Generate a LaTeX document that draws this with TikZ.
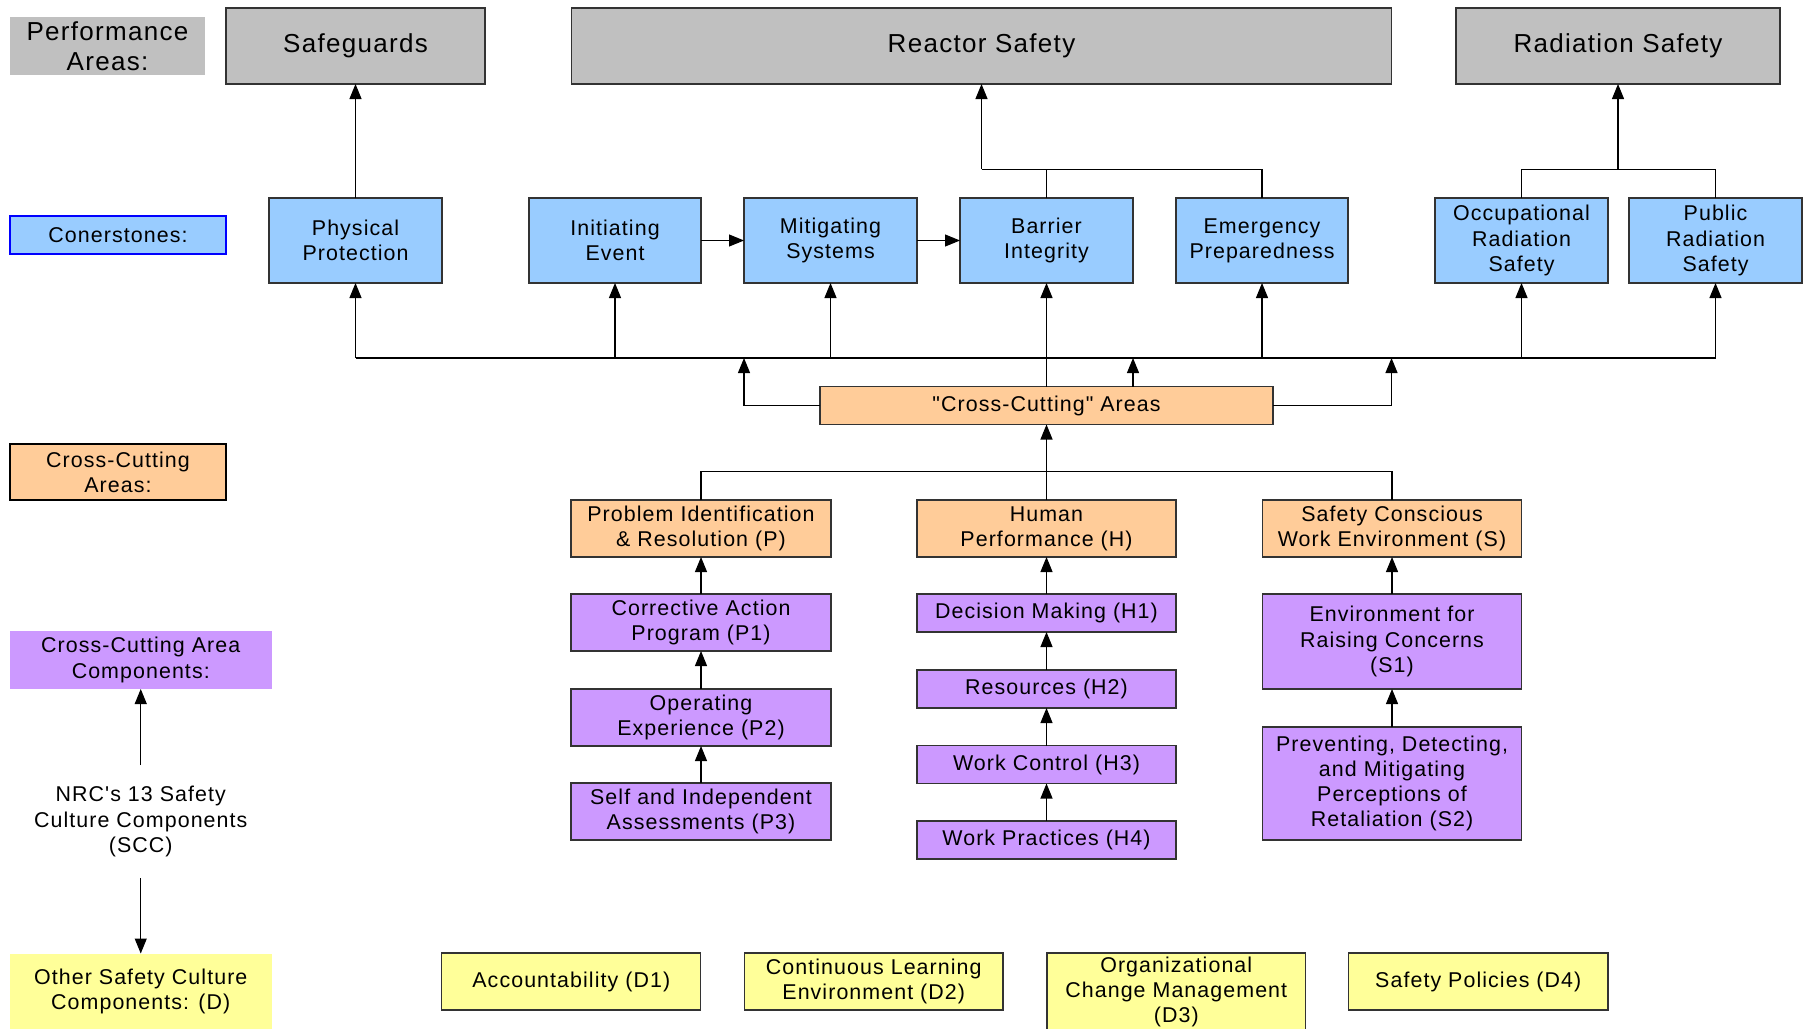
\documentclass[tikz,border=0pt]{standalone}
\usepackage{fontspec}
\newfontfamily\diagfont{Liberation Sans}[LetterSpace=5]
\usetikzlibrary{arrows.meta}
\definecolor{pgray}{HTML}{C0C0C0}
\definecolor{pblue}{HTML}{99CCFF}
\definecolor{porange}{HTML}{FFCC99}
\definecolor{ppurple}{HTML}{CC99FF}
\definecolor{pyellow}{HTML}{FFFF99}
\definecolor{boxline}{HTML}{333333}
\begin{document}
\begin{tikzpicture}[x=0.5pt,y=-0.5pt,
  sz/.style 2 args={minimum width=#1*0.5pt, minimum height=#2*0.5pt},
  bx/.style={draw=boxline, line width=0.6pt, inner sep=0pt, outer sep=0pt, align=center,
    font=\diagfont\fontsize{10.7}{12.6}\selectfont},
  big/.style={font=\diagfont\fontsize{13}{15}\selectfont},
  perfbox/.style={bx, big, fill=pgray},
  cornbox/.style={bx, fill=pblue},
  ccbox/.style={bx, fill=porange},
  compbox/.style={bx, fill=ppurple},
  dbox/.style={bx, fill=pyellow},
  link/.style={line width=0.55pt, draw=black},
  arr/.style={link, -{Triangle[length=7.5pt,width=6pt]}}
]
\useasboundingbox (0,0) rectangle (1803,1028);
\clip (0,0) rectangle (1803,1028);
\fill[white] (0,0) rectangle (1803,1028);

% legend column
\node[perfbox, draw=none, sz={195}{58}] (lperf) at (107.5,46) {Performance\\Areas:};
\node[cornbox, draw=blue, line width=0.8pt, sz={216}{38}] (lcorn) at (118,235) {Conerstones:};
\node[ccbox, draw=black, line width=0.8pt, sz={216}{56}] (lcc) at (118,472) {Cross-Cutting\\Areas:};
\node[compbox, draw=none, sz={261.5}{58}] (lcomp) at (140.75,660) {Cross-Cutting Area\\Components:};
\node[bx, draw=none, sz={261.5}{113}] (nrc) at (140.75,821.5) {NRC's 13 Safety\\Culture Components\\(SCC)};
\node[dbox, draw=none, sz={261.5}{76}] (lother) at (140.75,991.5) {Other Safety Culture\\Components: (D)};

% performance areas
\node[perfbox, sz={259}{76}] (safeg) at (355.5,46) {Safeguards};
\node[perfbox, sz={820}{76}] (reactor) at (981.5,46) {Reactor Safety};
\node[perfbox, sz={324}{76}] (radsafe) at (1618,46) {Radiation Safety};

% cornerstones
\node[cornbox, sz={173}{85}] (phys) at (355.5,240.5) {Physical\\Protection};
\node[cornbox, sz={172}{85}] (init) at (615,240.5) {Initiating\\Event};
\node[cornbox, sz={173}{85}] (mitig) at (830.5,240.5) {Mitigating\\Systems};
\node[cornbox, sz={173}{85}] (barrier) at (1046.5,240.5) {Barrier\\Integrity};
\node[cornbox, sz={172}{85}] (emerg) at (1262,240.5) {Emergency\\Preparedness};
\node[cornbox, sz={173}{85}] (occ) at (1521.5,240.5) {Occupational\\Radiation\\Safety};
\node[cornbox, sz={173}{85}] (public) at (1715.5,240.5) {Public\\Radiation\\Safety};

% cross-cutting
\node[ccbox, sz={453}{38}] (cc) at (1046.5,405.5) {"Cross-Cutting" Areas};
\node[ccbox, sz={260}{57}] (P) at (701,528.5) {Problem Identification\\\& Resolution (P)};
\node[ccbox, sz={259}{57}] (H) at (1046.5,528.5) {Human\\Performance (H)};
\node[ccbox, sz={259}{57}] (S) at (1392,528.5) {Safety Conscious\\Work Environment (S)};

% components
\node[compbox, sz={260}{57}] (P1) at (701,622.5) {Corrective Action\\Program (P1)};
\node[compbox, sz={260}{57}] (P2) at (701,717.5) {Operating\\Experience (P2)};
\node[compbox, sz={260}{57}] (P3) at (701,811.5) {Self and Independent\\Assessments (P3)};
\node[compbox, sz={259}{38}] (H1) at (1046.5,613) {Decision Making (H1)};
\node[compbox, sz={259}{38}] (H2) at (1046.5,689) {Resources (H2)};
\node[compbox, sz={259}{38}] (H3) at (1046.5,764.5) {Work Control (H3)};
\node[compbox, sz={259}{38}] (H4) at (1046.5,840) {Work Practices (H4)};
\node[compbox, sz={259}{95}] (S1) at (1392,641.5) {Environment for\\Raising Concerns\\(S1)};
\node[compbox, sz={259}{113}] (S2) at (1392,783.5) {Preventing, Detecting,\\and Mitigating\\Perceptions of\\Retaliation (S2)};

% other components
\node[dbox, sz={259}{57}] (D1) at (571.3,981.5) {Accountability (D1)};
\node[dbox, sz={258.5}{57}] (D2) at (873.75,981.5) {Continuous Learning\\Environment (D2)};
\node[dbox, sz={258.5}{78}] (D3) at (1176.25,992) {Organizational\\Change Management\\(D3)};
\node[dbox, sz={259.5}{57}] (D4) at (1478.25,981.5) {Safety Policies (D4)};

% connectors: cornerstones to performance areas
\draw[arr] (phys) -- (safeg);
\coordinate (rj) at (981.5,169.3);
\draw[link] (barrier.north) -- (barrier.north |- rj) -- (emerg.north |- rj) -- (emerg.north);
\draw[link] (barrier.north |- rj) -- (rj);
\draw[arr] (rj) -- (reactor.south -| rj);
\coordinate (sj) at (1618,169.3);
\draw[link] (occ.north) -- (occ.north |- sj) -- (public.north |- sj) -- (public.north);
\draw[arr] (sj) -- (radsafe.south);
\draw[arr] (init) -- (mitig);
\draw[arr] (mitig) -- (barrier);

% bus
\coordinate (busL) at (355.5,358);
\draw[link] (phys.south |- busL) -- (public.south |- busL);
\foreach \n in {phys,init,mitig,emerg,occ,public}
  \draw[arr] (\n.south |- busL) -- (\n.south);
\draw[arr] (cc.north) -- (barrier.south);
\coordinate (b1) at (744,358);
\coordinate (b2) at (1133,358);
\coordinate (b3) at (1391.5,358);
\draw[arr] (cc.west) -| (b1);
\draw[arr] (cc.north -| b2) -- (b2);
\draw[arr] (cc.east) -| (b3);

% cross-cutting areas to "Cross-Cutting" Areas
\coordinate (mj) at (1046.5,471.5);
\draw[link] (P.north) -- (P.north |- mj) -- (S.north |- mj) -- (S.north);
\draw[arr] (H) -- (cc);

% component chains
\draw[arr] (P1) -- (P);
\draw[arr] (P2) -- (P1);
\draw[arr] (P3) -- (P2);
\draw[arr] (H1) -- (H);
\draw[arr] (H2) -- (H1);
\draw[arr] (H3) -- (H2);
\draw[arr] (H4) -- (H3);
\draw[arr] (S1) -- (S);
\draw[arr] (S2) -- (S1);

% legend arrows
\draw[arr] (nrc) -- (lcomp);
\draw[arr] (nrc) -- (lother);
\end{tikzpicture}
\end{document}
